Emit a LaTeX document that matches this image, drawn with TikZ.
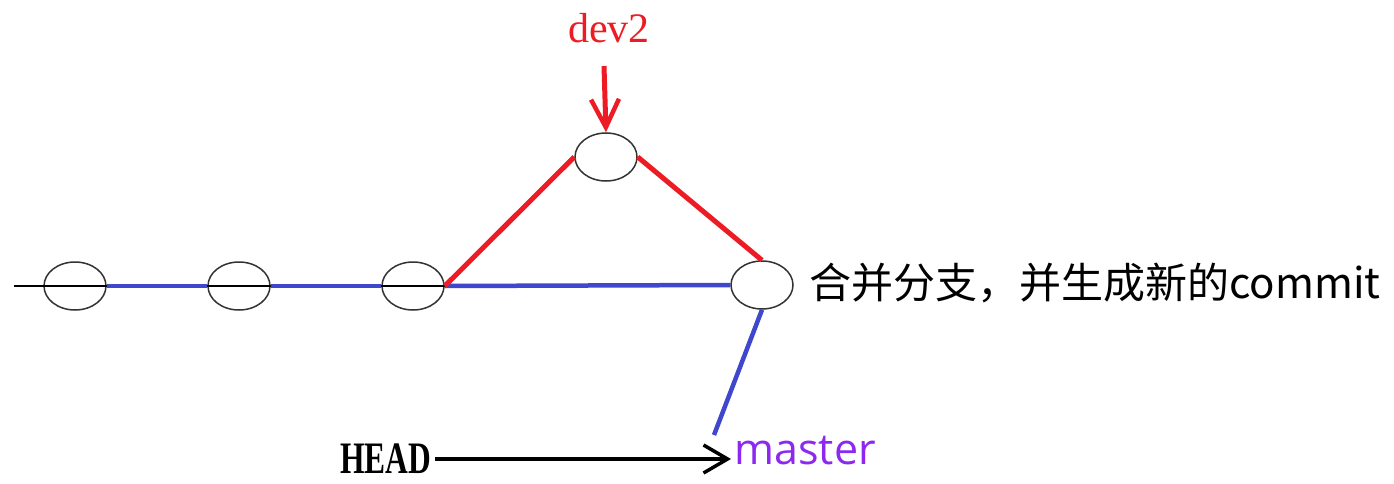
\documentclass[tikz,border=0pt]{standalone}
\usepackage{fontspec}
\usepackage{graphicx}
\setmainfont{Liberation Serif}
\newfontfamily\cjk{Noto Sans CJK SC}
\newfontfamily\opensans{Open Sans}
\usetikzlibrary{shapes.geometric,arrows.meta}
\definecolor{paintred}{RGB}{237,28,36}
\definecolor{paintblue}{RGB}{63,72,204}
\definecolor{masterpurple}{RGB}{140,40,240}
\tikzset{
    commit/.style={draw=black!80, line width=1.5pt, ellipse, inner sep=0pt,
        minimum width=62pt, minimum height=48pt},
    mainline/.style={paintblue, line width=4.5pt},
    devline/.style={paintred, line width=5pt}
}
\begin{document}
\begin{tikzpicture}[x=1pt, y=-1pt]
    \useasboundingbox (0,0) rectangle (1394,484);
    % 提交节点
    \node[commit] (c1) at (75,286) {};
    \node[commit] (c2) at (239,286) {};
    \node[commit] (c3) at (413,286) {};
    \node[commit] (c4) at (606,157) {};
    \node[commit] (cm) at (762,285) {};
    \coordinate (start) at (14,286);
    \coordinate (mtop) at (714,435);
    \coordinate (dtop) at (604,66);

    % 主线
    \draw[line width=1.2pt] (start) -- (c3.east);
    \draw[mainline] (c1.east) -- (c2.west);
    \draw[mainline] (c2.east) -- (c3.west);
    \draw[mainline] (c3.east) -- (cm.west);
    \draw[mainline] (cm.south) -- (mtop);

    % dev2 分支
    \draw[devline] (c3.east) -- (c4.west);
    \draw[devline] (c4.east) -- (cm.north);

    % 标签
    \node[paintred, font=\fontsize{42}{46}\selectfont] (dev2) at (609,28) {dev2};
    \draw[paintred, line width=5pt, -{Straight Barb[length=28pt, width=28pt, line width=4.5pt]}]
        (dtop) -- (c4.north);
    \node[anchor=west, font=\cjk\fontsize{42}{46}\selectfont] (msg) at (806,283)
        {合并分支，并生成新的commit};
    \node[anchor=east, font=\bfseries\fontsize{45}{48}\selectfont] (head) at (435,459)
        {\scalebox{0.7}[1]{HEAD}};
    \node[anchor=west, masterpurple, font=\opensans\fontsize{43}{46}\selectfont] (master) at (731,451)
        {master};
    \draw[line width=4pt, -{Straight Barb[length=24pt, width=28pt, line width=3.5pt]}]
        (head.east) -- (head.east -| master.west);
\end{tikzpicture}
\end{document}
